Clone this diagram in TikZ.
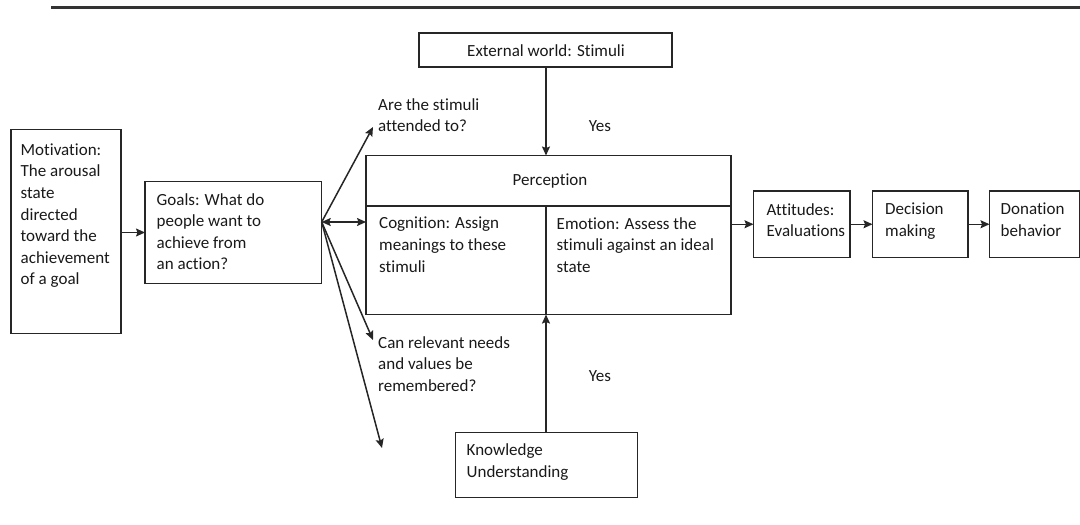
\documentclass[tikz,border=0pt]{standalone}
\usepackage{fontspec}
\setmainfont{Carlito}[Ligatures=NoCommon]
\usetikzlibrary{arrows.meta}
\begin{document}
\begin{tikzpicture}[x=1pt,y=-1pt,
  box/.style={draw=black!85, line width=1.5pt, inner sep=0pt, outer sep=0pt, anchor=north west},
  txt/.style={inner sep=0pt, anchor=north west, align=left, font=\fontsize{17}{21.6}\selectfont, text=black!90},
  ctxt/.style={inner sep=0pt, anchor=base, font=\fontsize{17}{21.6}\selectfont, text=black!90},
  tip/.tip={Stealth[length=9pt,width=8pt,inset=1.5pt]},
  arr/.style={draw=black!85, line width=1.5pt, -tip},
  darr/.style={draw=black!85, line width=1.5pt, tip-tip},
  rule/.style={draw=black!80, line width=2.6pt}]
\useasboundingbox (0,0) rectangle (1080,525);
% top rule
\coordinate (r0) at (51,7.5);
\coordinate (r1) at (1080,7.5);
\draw[rule] (r0) -- (r1);
% boxes
\node[box, minimum width=110, minimum height=204] (mot) at (11,129.5) {};
\node[box, minimum width=176.5, minimum height=102] (goals) at (145,181.5) {};
\node[box, minimum width=253, minimum height=34] (ext) at (419,33) {};
\node[box, minimum width=365, minimum height=50.5] (phead) at (366,155.5) {};
\node[box, minimum width=180, minimum height=108.5] (cog) at (366,206) {};
\node[box, minimum width=185, minimum height=108.5] (emo) at (546,206) {};
\node[box, minimum width=182, minimum height=65] (know) at (455.5,432.5) {};
\node[box, minimum width=96.5, minimum height=66.5] (att) at (753.5,191) {};
\node[box, minimum width=95.5, minimum height=66.5] (dec) at (872.5,191) {};
\node[box, minimum width=90, minimum height=66.5] (don) at (989.5,191) {};
% texts
\node[txt] (motT) at (20.5,143.5) {Motivation:\\The arousal\\state\\directed\\toward the\\achievement\\of a goal};
\node[txt] (goalsT) at (156.5,193) {Goals: What do\\people want to\\achieve from\\an action?};
\node[ctxt] (extT) at (546,56.5) {External world: Stimuli};
\node[ctxt] (percT) at (550,185) {Perception};
\node[txt] (cogT) at (379,217) {Cognition: Assign\\meanings to these\\stimuli};
\node[txt] (emoT) at (556.5,217) {Emotion: Assess the\\stimuli against an ideal\\state};
\node[txt] (knowT) at (466.5,443.5) {Knowledge\\Understanding};
\node[txt] (attT) at (766.5,203) {Attitudes:\\Evaluations};
\node[txt] (decT) at (885,203) {Decision\\making};
\node[txt] (donT) at (1000.5,203) {Donation\\behavior};
\node[txt] (q1) at (378,98) {Are the stimuli\\attended to?};
\node[txt] (q2) at (378,336) {Can relevant needs\\and values be\\remembered?};
\node[ctxt] (yes1) at (600,131.7) {Yes};
\node[ctxt] (yes2) at (600,381.7) {Yes};
% connectors
\coordinate (g0) at (321.7,222);
\coordinate (t1) at (373,127);
\coordinate (t2) at (373,340);
\coordinate (t3) at (382,448);
\draw[arr] (mot.east |- goals.west) -- (goals.west);
\draw[darr] (g0) -- (g0 -| cog.west);
\draw[arr] (g0) -- (t1);
\draw[arr] (g0) -- (t2);
\draw[arr] (g0) -- (t3);
\draw[arr] (ext.south -| cog.east) -- (phead.north -| cog.east);
\draw[arr] (know.north -| cog.east) -- (cog.south east);
\draw[arr] (emo.east |- att.west) -- (att.west);
\draw[arr] (att.east) -- (dec.west);
\draw[arr] (dec.east) -- (don.west);
\end{tikzpicture}
\end{document}
